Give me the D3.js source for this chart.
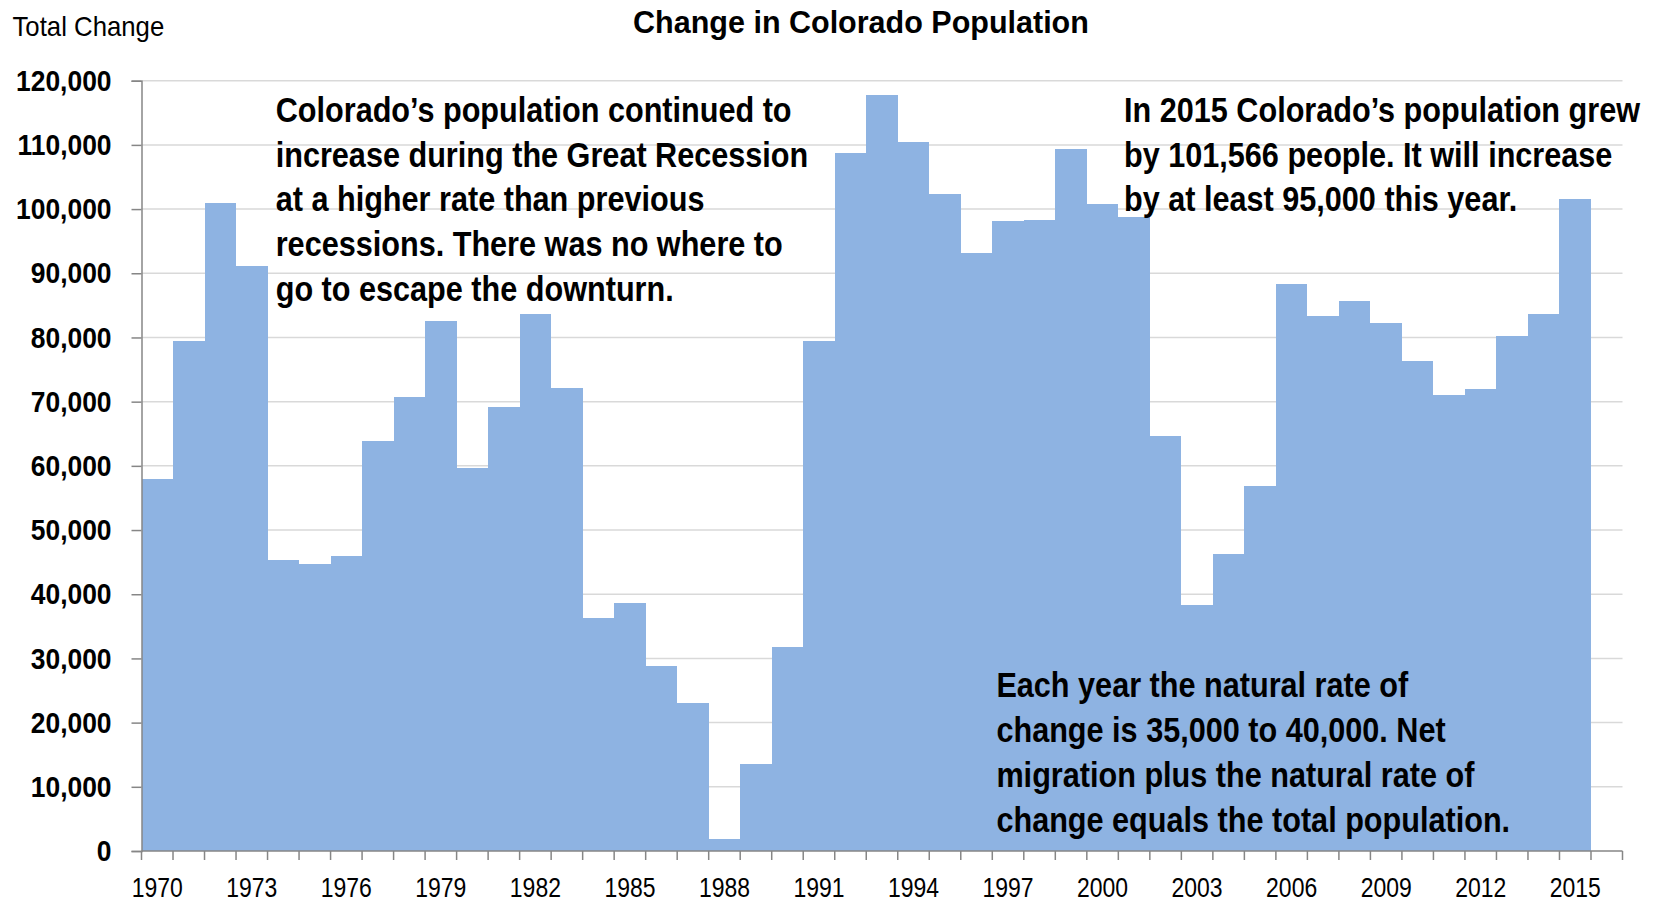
<!DOCTYPE html>
<html>
<head>
<meta charset="utf-8">
<script src="https://cdn.jsdelivr.net/npm/d3@7"></script>
<style>
  html, body { margin: 0; padding: 0; background: #fff; }
  svg { display: block; }
  text { font-family: "Liberation Sans", Arial, sans-serif; }
</style>
</head>
<body>
<svg id="chart" width="1658" height="904"></svg>
<script>
// ---- data ----
const years = d3.range(1970, 2017).map(String); // 1970..2016 (2016 slot is empty)
const totalChange = [
  58000, 79500, 101000, 91100, 45400, 44700, 46000, 63800, 70700, 82500,
  59600, 69100, 83600, 72100, 36300, 38700, 28800, 23000, 1800, 13500,
  31800, 79400, 108800, 117800, 110400, 102400, 93200, 98200, 98300, 109300,
  100800, 98700, 64600, 38300, 46200, 56800, 88400, 83300, 85700, 82300,
  76300, 71000, 71900, 80300, 83600, 101566
];
const yTicks = [0, 10000, 20000, 30000, 40000, 50000, 60000, 70000, 80000, 90000, 100000, 110000, 120000];
const xLabelYears = d3.range(1970, 2016, 3).map(String);
const titleText = "Change in Colorado Population";
const yAxisTitle = "Total Change";
const note1 = [
  "Colorado\u2019s population continued to",
  "increase during the Great Recession",
  "at a higher rate than previous",
  "recessions. There was no where to",
  "go to escape the downturn."
];
const note2 = [
  "In 2015 Colorado\u2019s population grew",
  "by 101,566 people. It will increase",
  "by at least 95,000 this year."
];
const note3 = [
  "Each year the natural rate of",
  "change is 35,000 to 40,000. Net",
  "migration plus the natural rate of",
  "change equals the total population."
];

// ---- layout ----
const svg = d3.select("#chart");
const plotL = 141.5, plotR = 1622.5, plotT = 80.7, plotB = 851;

const x = d3.scaleBand().domain(years).range([plotL, plotR]).padding(0);
const y = d3.scaleLinear().domain([0, 120000]).range([plotB, plotT]);

// gridlines
svg.append("g").selectAll("line")
  .data(yTicks.filter(d => d > 0))
  .join("line")
  .attr("x1", plotL).attr("x2", plotR)
  .attr("y1", d => y(d)).attr("y2", d => y(d))
  .attr("stroke", "#d9d9d9").attr("stroke-width", 1.5);

// bars
const data = totalChange.map((v, i) => ({ year: years[i], value: v }));
svg.append("g").selectAll("rect")
  .data(data)
  .join("rect")
  .attr("x", d => x(d.year))
  .attr("width", x.bandwidth())
  .attr("y", d => y(d.value))
  .attr("height", d => y(0) - y(d.value))
  .attr("fill", "#8eb3e2")
  .attr("shape-rendering", "crispEdges");

// helper for horizontally condensed text
function condText(parent, tx, ty, s, str, opts) {
  const g = parent.append("g").attr("transform", `translate(${tx},${ty}) scale(${s},1)`);
  const t = g.append("text").attr("x", 0).attr("y", 0)
    .attr("text-anchor", opts.anchor || "start")
    .attr("font-size", opts.size).attr("font-weight", opts.weight || "normal")
    .attr("fill", "#000").text(str);
  return t;
}

// y axis
const ySx = 0.88;
const yAxis = d3.axisLeft(y).tickValues(yTicks).tickSize(10).tickPadding(20)
  .tickFormat(d3.format(","));
const gy = svg.append("g").attr("transform", `translate(${plotL},0)`).call(yAxis);
gy.select(".domain").attr("stroke", "#868686").attr("stroke-width", 1.5);
gy.selectAll(".tick line").attr("stroke", "#868686").attr("stroke-width", 1.5);
gy.selectAll(".tick text")
  .attr("font-size", 30).attr("font-weight", "bold").attr("fill", "#000")
  .attr("font-family", '"Liberation Sans", Arial, sans-serif')
  .attr("x", -30 / ySx)
  .attr("transform", `scale(${ySx},1)`);

// x axis: ticks at category boundaries
const boundaries = years.map(yv => x(yv)).concat([plotR]);
const gx = svg.append("g");
gx.append("line").attr("x1", plotL).attr("x2", plotR).attr("y1", plotB).attr("y2", plotB)
  .attr("stroke", "#868686").attr("stroke-width", 1.5);
gx.selectAll("line.tk").data(boundaries).join("line").attr("class", "tk")
  .attr("x1", d => d).attr("x2", d => d).attr("y1", plotB).attr("y2", plotB + 9)
  .attr("stroke", "#868686").attr("stroke-width", 1.5);
xLabelYears.forEach(yr => {
  condText(gx, x(yr) + x.bandwidth() / 2, 896.5, 0.82, yr, { anchor: "middle", size: 28 });
});

// title
svg.append("text").attr("x", 861).attr("y", 33.3).attr("text-anchor", "middle")
  .attr("font-size", 30.5).attr("font-weight", "bold").attr("fill", "#000").text(titleText);
condText(svg, 12.5, 36, 0.92, yAxisTitle, { size: 28 });

// annotations
function note(lines, x0, y0) {
  lines.forEach((line, i) => {
    condText(svg, x0, y0 + i * 44.8, 0.875, line, { size: 35, weight: "bold" });
  });
}
note(note1, 275.7, 121.7);
note(note2, 1124, 121.7);
note(note3, 996.4, 697.3);
</script>
</body>
</html>
